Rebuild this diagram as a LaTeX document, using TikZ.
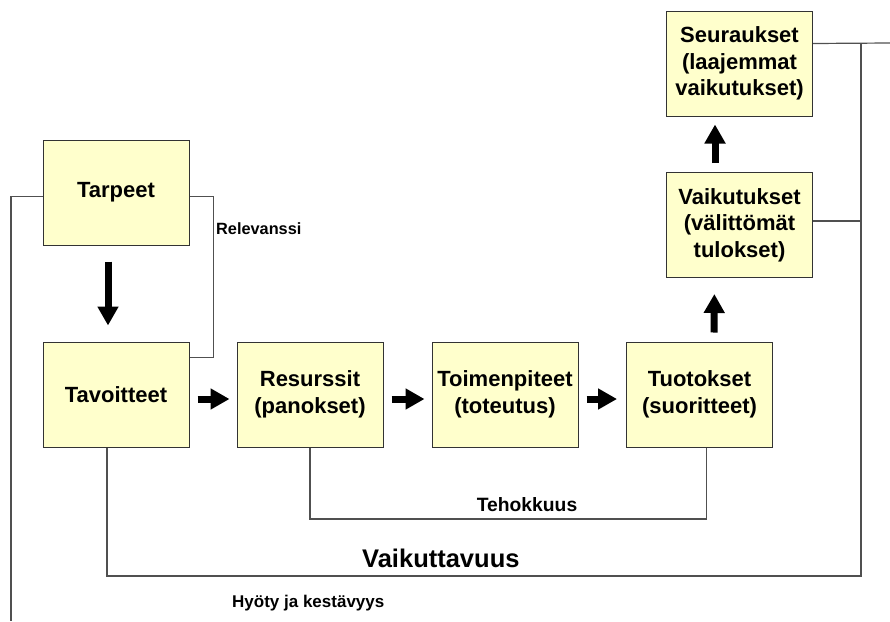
\documentclass[tikz,border=0pt]{standalone}
\usepackage{fontspec}
\setmainfont{Liberation Sans}
\usetikzlibrary{arrows.meta}
\definecolor{boxfill}{HTML}{FFFFCC}
\definecolor{linegray}{HTML}{505050}
\tikzset{
  box/.style={draw=black!80, line width=1pt, fill=boxfill, minimum width=146pt, minimum height=105pt, align=center, inner sep=0pt, font=\bfseries\fontsize{22}{26.5}\selectfont},
  conn/.style={draw=linegray, line width=1.2pt},
  bigarrow/.style={draw=black, line width=7pt, -{Triangle[width=20pt,length=19pt]}},
  lbl/.style={font=\bfseries\fontsize{17}{20}\selectfont, inner sep=0pt}
}
\begin{document}
\begin{tikzpicture}[x=1pt,y=-1pt]
\useasboundingbox (0,0) rectangle (890,621);
\node[box] (tarp) at (116,192.5) {Tarpeet};
\node[box] (tavo) at (116,394.5) {Tavoitteet};
\node[box] (resu) at (310,394.5) {Resurssit\\(panokset)};
\node[box] (toim) at (505,394.5) {Toimenpiteet\\(toteutus)};
\node[box] (tuot) at (699.5,394.5) {Tuotokset\\(suoritteet)};
\node[box] (vaik) at (739.5,225) {Vaikutukset\\(välittömät\\tulokset)};
\node[box] (seur) at (739.5,63.5) {Seuraukset\\(laajemmat\\vaikutukset)};

\coordinate (hb) at (11,621);
\coordinate (th) at (500,519);
\coordinate (vk) at (861,576);
\coordinate (vt) at (861,43);
\coordinate (re) at (890,43);
\coordinate (vm) at (861,221);

% connectors
\draw[conn] ([yshift=-4pt]tarp.west) -| (hb);
\draw[conn] ([yshift=-4pt]tarp.east) -- ++(24,0) |- ([yshift=-16pt]tavo.north east);
\draw[conn] (resu.south) |- (th) -| ([xshift=7pt]tuot.south);
\draw[conn] ([xshift=-9pt]tavo.south) |- (vk) -- (vt);
\draw[conn] ([yshift=20pt]seur.east) -- (re);
\draw[conn] ([yshift=4pt]vaik.east) -- (vm);

% arrows
\draw[bigarrow, shorten <=16pt, shorten >=16pt] ([xshift=-8pt]tarp.south) -- ([xshift=-8pt]tavo.north);
\draw[bigarrow, shorten <=8pt, shorten >=7pt] ([yshift=-4.5pt]tavo.east) -- ([yshift=-4.5pt]resu.west);
\draw[bigarrow, shorten <=8pt, shorten >=7pt] ([yshift=-4.5pt]resu.east) -- ([yshift=-4.5pt]toim.west);
\draw[bigarrow, shorten <=8pt, shorten >=9pt] ([yshift=-4.5pt]toim.east) -- ([yshift=-4.5pt]tuot.west);
\draw[bigarrow, shorten <=9pt, shorten >=16pt] ([xshift=14.5pt]tuot.north) -- ([xshift=-25pt]vaik.south);
\draw[bigarrow, shorten <=9pt, shorten >=8pt] ([xshift=-24.5pt]vaik.north) -- ([xshift=-24.5pt]seur.south);

% labels
\node[lbl, anchor=west, font=\bfseries\fontsize{16.3}{20}\selectfont] (relv) at (216,229) {Relevanssi};
\node[lbl, font=\bfseries\fontsize{19.3}{22}\selectfont] (teho) at (527,505) {Tehokkuus};
\node[lbl, anchor=west, font=\bfseries\fontsize{25.5}{30}\selectfont] (vaikt) at (362,558) {Vaikuttavuus};
\node[lbl, anchor=west] (hyot) at (232,603) {Hyöty ja kestävyys};
\end{tikzpicture}
\end{document}
